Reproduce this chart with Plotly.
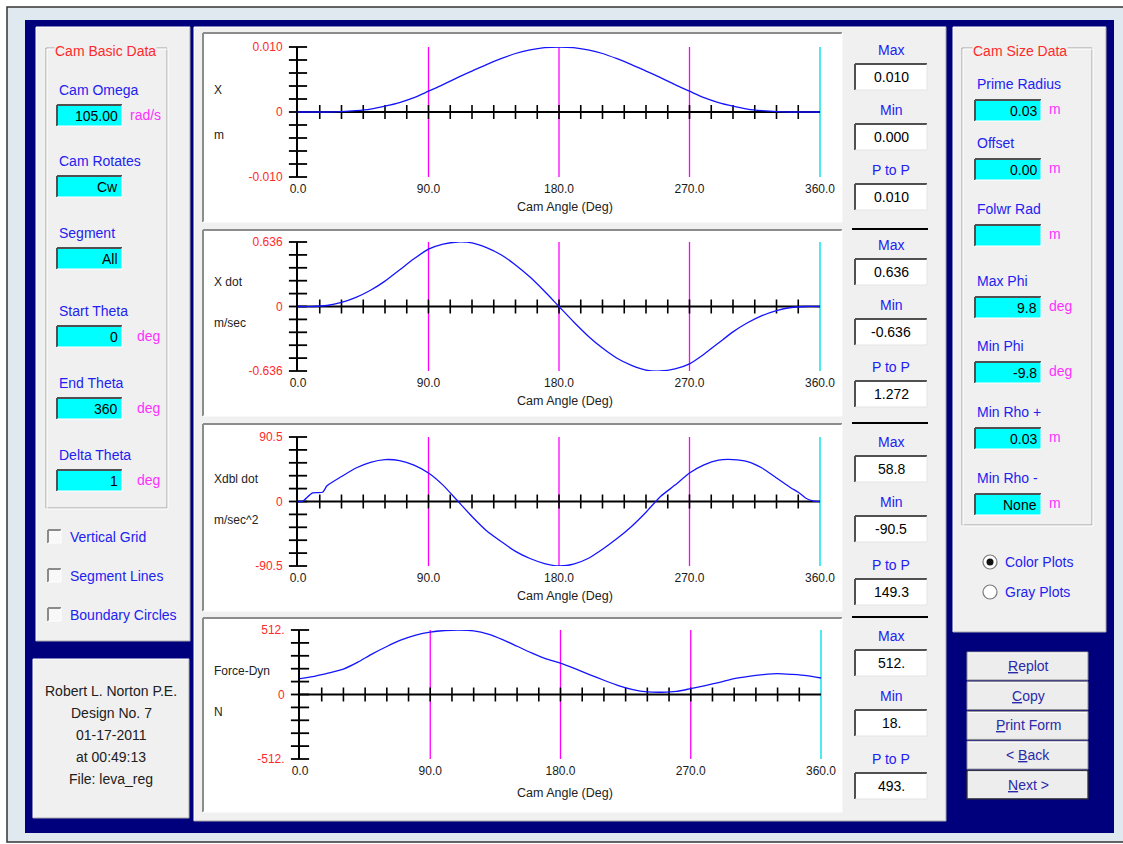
import numpy as np
import plotly.graph_objects as go

W, H = 1123, 844

# ------------------------------------------------------------------ data
angle_deg = list(range(0, 361, 10))
disp_m = [0, 0, 0, 0.00005, 0.0002, 0.00045, 0.0009, 0.00145, 0.0022, 0.0032,
          0.0042, 0.0053, 0.0063, 0.0073, 0.0082, 0.0090, 0.00955, 0.0099, 0.0100,
          0.0099, 0.00955, 0.0090, 0.0082, 0.0073, 0.0063, 0.0053, 0.0042, 0.0032,
          0.0022, 0.00145, 0.0009, 0.00045, 0.0002, 0.00005, 0, 0, 0]
vel_ms = [0, 0, 0.01, 0.04, 0.09, 0.16, 0.25, 0.36, 0.47, 0.565, 0.615, 0.636,
          0.627, 0.58, 0.51, 0.41, 0.29, 0.15, 0,
          -0.15, -0.29, -0.41, -0.51, -0.58, -0.627, -0.636, -0.615, -0.565, -0.47,
          -0.36, -0.25, -0.16, -0.09, -0.04, -0.01, 0, 0]
accel_deg = [0, 3, 10, 17, 20, 30, 40, 50, 60, 70, 80, 90, 100, 110, 120, 130,
             140, 150, 160, 170, 180, 190, 200, 210, 220, 230, 240, 250, 260,
             270, 280, 290, 300, 310, 320, 330, 340, 345, 350, 355, 360]
accel_ms2 = [0, 0, 12, 13, 22, 35, 47, 55, 58.8, 57.5, 51, 40, 23, 1, -21, -41,
             -56, -70, -80, -87, -90.5, -88, -80, -67, -52, -35, -15, 7, 23,
             40, 51.5, 58, 58.8, 56, 47, 33, 19, 13, 5, 1, 0]
force_n = [126, 144, 171, 202, 257, 323, 381, 433, 472, 496, 508, 512, 505, 480,
           436, 383, 330, 283, 249, 205, 158, 113, 71, 39, 21, 18, 24, 47, 71,
           97, 126, 144, 157, 165, 159, 150, 131]

plot_names = ["X", "X dot", "Xdbl dot", "Force-Dyn"]
plot_units = ["m", "m/sec", "m/sec^2", "N"]
plot_limits = [0.010, 0.636, 90.5, 512]
ytick_text = [["0.010", "0", "-0.010"], ["0.636", "0", "-0.636"],
              ["90.5", "0", "-90.5"], ["512.", "0", "-512."]]
xtick_vals = [0, 90, 180, 270, 360]
xtick_text = ["0.0", "90.0", "180.0", "270.0", "360.0"]
segment_angles = [90, 180, 270]
end_angle = 360
stat_labels = ["Max", "Min", "P to P"]
stat_values = [["0.010", "0.000", "0.010"], ["0.636", "-0.636", "1.272"],
               ["58.8", "-90.5", "149.3"], ["512.", "18.", "493."]]

basic_fields = [("Cam Omega", "105.00", "rad/s"), ("Cam Rotates", "Cw", ""),
                ("Segment", "All", ""), ("Start Theta", "0", "deg"),
                ("End Theta", "360", "deg"), ("Delta Theta", "1", "deg")]
size_fields = [("Prime Radius", "0.03", "m"), ("Offset", "0.00", "m"),
               ("Folwr Rad", "", "m"), ("Max Phi", "9.8", "deg"),
               ("Min Phi", "-9.8", "deg"), ("Min Rho +", "0.03", "m"),
               ("Min Rho -", "None", "m")]
checkbox_labels = ["Vertical Grid", "Segment Lines", "Boundary Circles"]
radio_labels = ["Color Plots", "Gray Plots"]
button_labels = ["<u>R</u>eplot", "<u>C</u>opy", "<u>P</u>rint Form",
                 "&lt; <u>B</u>ack", "<u>N</u>ext &gt;"]
info_lines = ["Robert L. Norton P.E.", "Design No. 7", "01-17-2011",
              "at 00:49:13", "File: leva_reg"]

# ------------------------------------------------------------------ style
FONT = "Liberation Sans, Arial, sans-serif"
LBL = "#2222f0"
RED = "#ff2a2a"
MAG = "#ff30ff"
NAVY = "#00007c"
PANEL = "#f0f0f0"
CYAN = "#00ffff"

shapes, annots = [], []


def X(px):
    return px / W


def Y(py):
    return 1 - py / H


def rect(x0, y0, x1, y1, fill=None, line=None, lw=1):
    shapes.append(dict(type="rect", xref="paper", yref="paper",
                       x0=X(x0), x1=X(x1), y0=Y(y1), y1=Y(y0),
                       fillcolor=fill or "rgba(0,0,0,0)",
                       line=dict(color=line or "rgba(0,0,0,0)", width=lw if line else 0),
                       layer="below"))


def seg(x0, y0, x1, y1, color, lw=1):
    shapes.append(dict(type="line", xref="paper", yref="paper",
                       x0=X(x0), y0=Y(y0), x1=X(x1), y1=Y(y1),
                       line=dict(color=color, width=lw), layer="below"))


def sunken(x0, y0, x1, y1, fill, dark="#6a6a6a", light="#ffffff", lw=2):
    rect(x0, y0, x1, y1, fill)
    seg(x0, y0, x1, y0, dark, lw)
    seg(x0, y0, x0, y1, dark, lw)
    seg(x0, y1, x1, y1, light, 1)
    seg(x1, y0, x1, y1, light, 1)


def panel(x0, y0, x1, y1):
    rect(x0, y0, x1, y1, PANEL)
    seg(x0, y0, x1, y0, "#ffffff", 1)
    seg(x0, y0, x0, y1, "#ffffff", 1)
    seg(x0, y1, x1, y1, "#a8a8a8", 1)
    seg(x1, y0, x1, y1, "#a8a8a8", 1)


def groupbox(x0, y0, x1, y1):
    for off, col in ((0, "#a0a0a0"), (1, "#ffffff")):
        seg(x0 + off, y0 + off, x1 + off, y0 + off, col, 1)
        seg(x0 + off, y0 + off, x0 + off, y1 + off, col, 1)
        seg(x0 + off, y1 + off, x1 + off, y1 + off, col, 1)
        seg(x1 + off, y0 + off, x1 + off, y1 + off, col, 1)


def txt(x, y, s, color="#000000", size=14, anchor="left", bg=None):
    d = dict(xref="paper", yref="paper", x=X(x), y=Y(y), text=s, showarrow=False,
             xanchor=anchor, yanchor="middle",
             font=dict(family=FONT, size=size, color=color))
    if bg:
        d["bgcolor"] = bg
        d["borderpad"] = 0
    annots.append(d)


# ------------------------------------------------------------------ window chrome
rect(7, 7, 1130, 842, "#e1e9f0", "#333333", 1.5)
rect(25, 20, 1114, 833, NAVY)

# left panel
panel(36, 27, 190, 641)
groupbox(46, 48, 167, 508)
txt(54, 51, "Cam Basic Data", RED, 14, bg=PANEL)
for i, (lab, val, unit) in enumerate(basic_fields):
    ly = [90, 161, 233, 311, 383, 455][i]
    txt(57, ly, lab, LBL, 14)
    by = ly + 15
    sunken(57, by, 122, by + 21, CYAN, dark="#505050")
    txt(120, by + 11, val, "#000000", 14, anchor="right")
    if unit:
        txt(128 if unit == "rad/s" else 135, by + 10, unit, MAG, 14)
for i, lab in enumerate(checkbox_labels):
    cy = 537 + 39 * i
    sunken(48, cy - 7, 61, cy + 6, "#f8f8f8", dark="#8a8a8a")
    txt(68, cy, lab, LBL, 14)

# bottom-left info panel
panel(33, 659, 189, 818)
for i, line in enumerate(info_lines):
    txt(111, 691 + 22 * i, line, "#202020", 14, anchor="center")

# middle panel
panel(194, 27, 946, 821)
plot_boxes = [(203, 33, 842, 222), (203, 230, 842, 416),
              (203, 424, 842, 611), (203, 618, 842, 812)]
for bx in plot_boxes:
    sunken(*bx, "#ffffff", dark="#8c8c8c", light="#ffffff")

# right column stats
stat_label_y = [[50, 110, 170], [245, 305, 367], [442, 502, 565], [636, 696, 759]]
for p in range(4):
    for k in range(3):
        ly = stat_label_y[p][k]
        txt(891, ly, stat_labels[k], LBL, 14, anchor="center")
        by = ly + 14
        sunken(855, by, 927, by + 26, "#ffffff", dark="#505050", light="#e4e4e4")
        txt(891, by + 13, stat_values[p][k], "#000000", 14, anchor="center")
for sy in (229, 423, 617):
    seg(852, sy, 928, sy, "#000000", 2)

# right panel
panel(953, 27, 1106, 632)
groupbox(962, 48, 1092, 525)
txt(972, 51, "Cam Size Data", RED, 14, bg=PANEL)
for i, (lab, val, unit) in enumerate(size_fields):
    ly = [84, 143, 209, 281, 346, 412, 478][i]
    txt(975, ly, lab, LBL, 14)
    by = ly + 16
    sunken(975, by, 1041, by + 21, CYAN, dark="#505050")
    if val:
        txt(1039, by + 11, val, "#000000", 14, anchor="right")
    txt(1047, by + 9, unit, MAG, 14)
for i, lab in enumerate(radio_labels):
    cy = 562 + 30 * i
    shapes.append(dict(type="circle", xref="paper", yref="paper",
                       x0=X(983), x1=X(997), y0=Y(cy + 7), y1=Y(cy - 7),
                       fillcolor="#ffffff", line=dict(color="#7a7a7a", width=1.2),
                       layer="below"))
    if i == 0:
        shapes.append(dict(type="circle", xref="paper", yref="paper",
                           x0=X(986.5), x1=X(993.5), y0=Y(cy + 3.5), y1=Y(cy - 3.5),
                           fillcolor="#111111", line=dict(width=0), layer="below"))
    txt(1003, cy, lab, LBL, 14)

# buttons
for i, lab in enumerate(button_labels):
    y0 = 652 + 29.7 * i
    dark = "#303030" if i == 4 else "#8d8d8d"
    rect(967, y0, 1088, y0 + 28, "#ededed", dark, 1.3 if i == 4 else 1)
    seg(968, y0 + 1, 1087, y0 + 1, "#ffffff", 1)
    txt(1028, y0 + 14, lab, "#2a2aa8", 14, anchor="center")

# ------------------------------------------------------------------ plots
series = [(angle_deg, disp_m), (angle_deg, vel_ms), (accel_deg, accel_ms2), (angle_deg, force_n)]
plot_px = [dict(x0=298, x1=820, top=47, bot=177, lab=(90, 135), title=207),
           dict(x0=298, x1=820, top=242, bot=371, lab=(282, 323), title=401),
           dict(x0=298, x1=820, top=437, bot=566, lab=(479, 520), title=596),
           dict(x0=300, x1=821, top=630, bot=759, lab=(671, 712), title=793)]
XMAX = 363  # a little room past 360 so the end line is not clipped

fig = go.Figure()
layout_axes = {}
xtick_pos = np.arange(15, end_angle, 15)
for i in range(4):
    ax = "" if i == 0 else str(i + 1)
    xr, yr = "x" + ax, "y" + ax
    lim = plot_limits[i]
    g = plot_px[i]
    ang, val = series[i]
    x1px = g["x0"] + (g["x1"] - g["x0"]) * XMAX / 360.0

    # segment boundary lines and end line
    sx, sy = [], []
    for a in segment_angles:
        sx += [a, a, None]
        sy += [-lim, lim, None]
    fig.add_trace(go.Scatter(x=sx, y=sy, mode="lines", xaxis=xr, yaxis=yr,
                             line=dict(color="#ff00ff", width=1.3), hoverinfo="skip"))
    fig.add_trace(go.Scatter(x=[end_angle, end_angle], y=[-lim, lim],
                             mode="lines", xaxis=xr, yaxis=yr,
                             line=dict(color="#10e4ee", width=1.5), hoverinfo="skip"))
    # axis line along y = 0 (stops at the end angle)
    fig.add_trace(go.Scatter(x=[0, end_angle], y=[0, 0], mode="lines", xaxis=xr, yaxis=yr,
                             line=dict(color="#000000", width=2), hoverinfo="skip"))
    # axis cross ticks
    fig.add_trace(go.Scatter(x=xtick_pos, y=np.zeros(len(xtick_pos)), mode="markers",
                             xaxis=xr, yaxis=yr, cliponaxis=False, hoverinfo="skip",
                             marker=dict(symbol="line-ns", size=10,
                                         line=dict(color="#000000", width=1.6))))
    ytk = np.linspace(-lim, lim, 11)
    fig.add_trace(go.Scatter(x=np.zeros(len(ytk)), y=ytk, mode="markers",
                             xaxis=xr, yaxis=yr, cliponaxis=False, hoverinfo="skip",
                             marker=dict(symbol="line-ew", size=13,
                                         line=dict(color="#000000", width=1.8))))
    # curve
    fig.add_trace(go.Scatter(x=ang, y=val, mode="lines", xaxis=xr, yaxis=yr,
                             line=dict(color="#1414ff", width=1.3, shape="spline",
                                       smoothing=0.6),
                             cliponaxis=False))

    layout_axes["xaxis" + ax] = dict(
        domain=[X(g["x0"]), X(x1px)], range=[0, XMAX], anchor=yr,
        tickvals=xtick_vals, ticktext=xtick_text, ticks="",
        tickfont=dict(family=FONT, size=12, color="#1a1a1a"),
        showgrid=False, zeroline=False, showline=False,
        ticklabelstandoff=3, automargin=False, fixedrange=True)
    layout_axes["yaxis" + ax] = dict(
        domain=[Y(g["bot"]), Y(g["top"])], range=[-lim, lim], anchor=xr,
        tickvals=[lim, 0, -lim], ticktext=ytick_text[i], ticks="",
        tickfont=dict(family=FONT, size=12, color=RED),
        showgrid=False, zeroline=False,
        showline=True, linecolor="#000000", linewidth=2,
        ticklabelstandoff=11, automargin=False, fixedrange=True)

    txt(212, g["lab"][0], plot_names[i], "#222222", 12)
    txt(212, g["lab"][1], plot_units[i], "#222222", 12)
    txt(565, g["title"], "Cam Angle (Deg)", "#222222", 12.5, anchor="center")

fig.update_layout(
    width=W, height=H, margin=dict(l=0, r=0, t=0, b=0),
    paper_bgcolor="#ffffff", plot_bgcolor="rgba(0,0,0,0)",
    showlegend=False, shapes=shapes, annotations=annots,
    font=dict(family=FONT), hovermode=False, **layout_axes)

fig.write_html("out.html", config={"displayModeBar": False},
               post_script="document.body.style.margin='0';document.body.style.overflow='hidden';")
